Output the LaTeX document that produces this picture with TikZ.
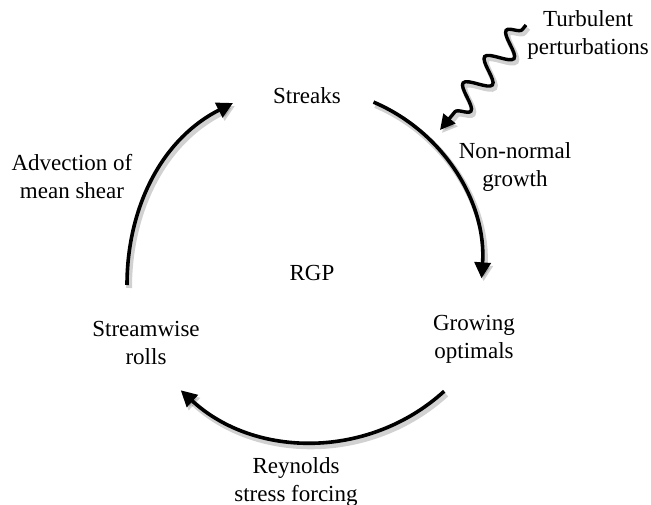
\documentclass[tikz,border=0pt]{standalone}
\usepackage{fontspec}
\setmainfont{Liberation Serif}
\usetikzlibrary{arrows.meta,decorations.pathmorphing}
\begin{document}
\begin{tikzpicture}[x=1pt,y=1pt,
  lbl/.style={font=\fontsize{23}{28}\selectfont, align=center, inner sep=0pt},
  tipA/.style={-{Triangle[length=16pt,width=16pt]}},
  cyc/.style={line width=3.6pt, tipA},
  wavy/.style={line width=3.4pt, -{Triangle[length=15pt,width=15pt]}, decorate,
    decoration={snake, mirror, amplitude=12pt, segment length=34pt, pre length=6pt, post length=14pt}},
  shd/.style={draw=black, opacity=0.18, line width=6pt},
]
\useasboundingbox (0,0) rectangle (651,-505);
\fill[white] (0,0) rectangle (651,-505);

% text nodes
\node[lbl] (streaks) at (307,-96) {Streaks};
\node[lbl] (turb) at (588,-35) {Turbulent\\perturbations};
\node[lbl] (nonnormal) at (515,-167) {Non-normal\\growth};
\node[lbl] (rgp) at (312,-273) {RGP};
\node[lbl] (growing) at (474,-339) {Growing\\optimals};
\node[lbl] (streamwise) at (146,-343) {Streamwise\\rolls};
\node[lbl] (advection) at (72,-177) {Advection of\\mean shear};
\node[lbl] (reynolds) at (296,-482) {Reynolds\\stress forcing};

% arc end points
\coordinate (a1s) at (373.5,-102.1);
\coordinate (a1e) at (481.6,-278.4);
\coordinate (a2s) at (444.2,-391.2);
\coordinate (a2e) at (180.7,-390.3);
\coordinate (a3s) at (127,-285);
\coordinate (a3e) at (233,-103);
\coordinate (ws) at (526,-25);
\coordinate (we) at (440,-130);

% shadows
\begin{scope}[transform canvas={shift={(2pt,-3pt)}}]
  \draw[shd, tipA] (a1s) arc[start angle=67, end angle=-4, radius=178pt];
  \draw[shd, tipA] (a2s) arc[start angle=-47.7, end angle=-132.7, radius=195pt];
  \draw[shd, tipA] (a3s) .. controls (127,-210) and (160,-140) .. (a3e);
  \draw[wavy, draw=black, opacity=0.18, line width=5.5pt] (ws) -- (we);
\end{scope}

% cycle arrows
\draw[cyc] (a1s) arc[start angle=67, end angle=-4, radius=178pt];
\draw[cyc] (a2s) arc[start angle=-47.7, end angle=-132.7, radius=195pt];
\draw[cyc] (a3s) .. controls (127,-210) and (160,-140) .. (a3e);

% wavy arrow
\draw[wavy] (ws) -- (we);
\end{tikzpicture}
\end{document}
